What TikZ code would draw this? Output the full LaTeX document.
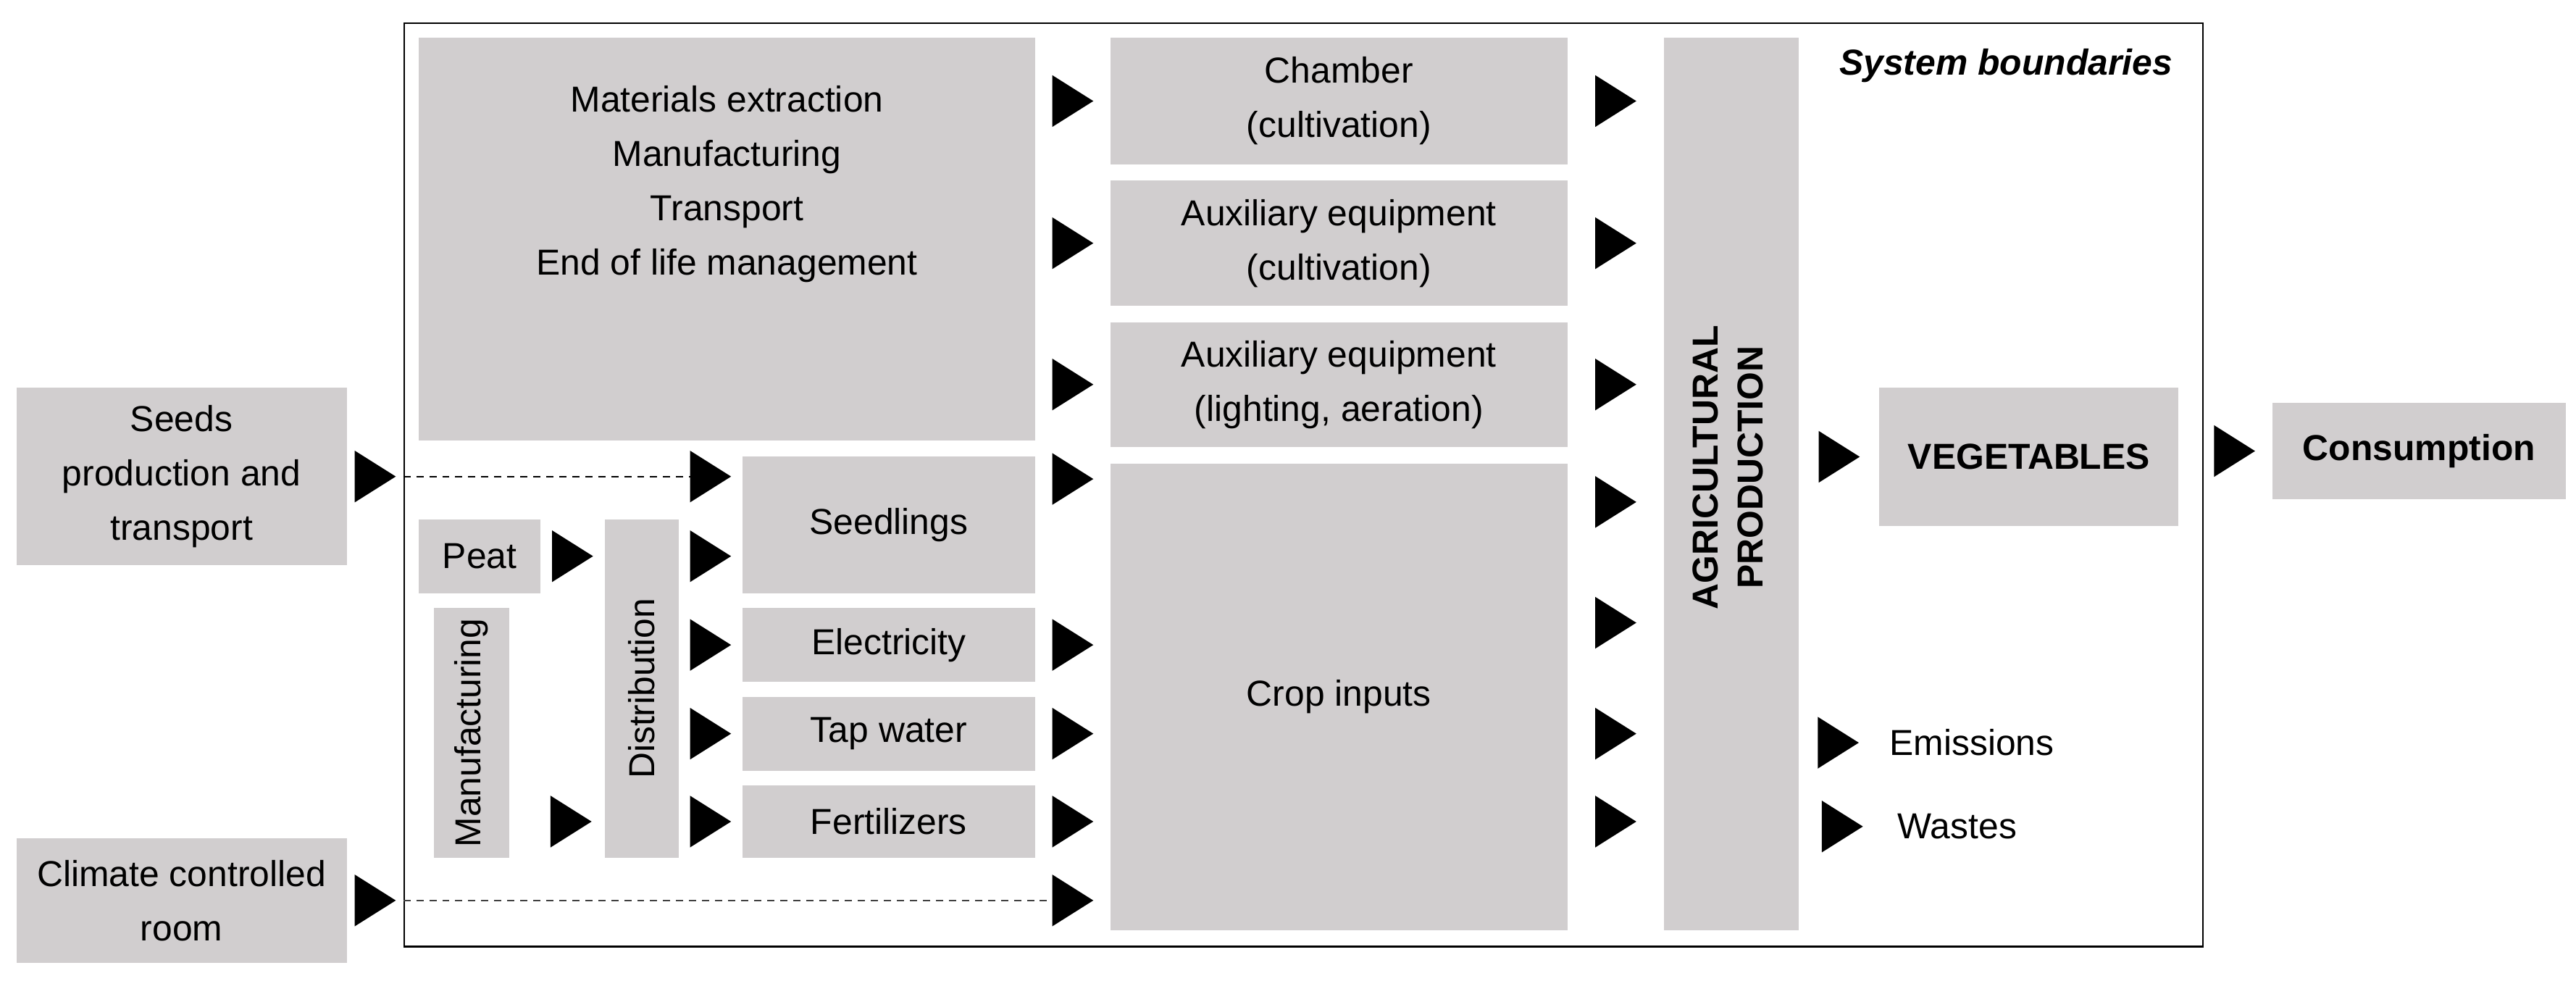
\documentclass[tikz,border=0pt]{standalone}
\usepackage{fontspec}
\setmainfont{Liberation Sans}
\usetikzlibrary{calc}
\definecolor{boxgray}{RGB}{209,206,207}
\tikzset{
  box/.style={fill=boxgray,align=center,inner sep=2pt},
  tri/.pic={\fill (-0.25,0.315) -- (0.25,0) -- (-0.25,-0.315) -- cycle;},
  dashline/.style={line width=.6pt,dash pattern=on 2.5pt off 2pt}
}
\begin{document}
\fontsize{12.5}{18.8}\selectfont
\begin{tikzpicture}
\useasboundingbox (0,0) rectangle (31.36,-11.94);
\node[draw,line width=.6pt,minimum width=21.9cm,minimum height=11.24cm,inner sep=0] (sys) at (15.87,-5.9) {};
\node[anchor=east,font=\bfseries\itshape] (sysname) at (26.6,-0.8) {System boundaries};
% outside the boundaries
\node[box,minimum width=4.02cm,minimum height=2.16cm] (seeds) at (2.21,-5.8) {Seeds\\production and\\transport};
\node[box,minimum width=4.02cm,minimum height=1.52cm] (climate) at (2.21,-10.96) {Climate controlled\\room};
\node[box,minimum width=3.58cm,minimum height=1.18cm,font=\bfseries] (cons) at (29.45,-5.49) {Consumption};
% infrastructure
\node[box,minimum width=7.5cm,minimum height=4.9cm] (mat) at (8.85,-2.91) {};
\node[align=center] (mattext) at (8.85,-2.24) {Materials extraction\\Manufacturing\\Transport\\End of life management};
\node[box,minimum width=5.56cm,minimum height=1.54cm] (chamber) at (16.3,-1.23) {Chamber\\(cultivation)};
\node[box,minimum width=5.56cm,minimum height=1.52cm] (auxcult) at (16.3,-2.96) {Auxiliary equipment\\(cultivation)};
\node[box,minimum width=5.56cm,minimum height=1.52cm] (auxlight) at (16.3,-4.68) {Auxiliary equipment\\(lighting, aeration)};
% crop inputs
\node[box,minimum width=5.56cm,minimum height=5.68cm] (crop) at (16.3,-8.48) {Crop inputs};
\node[box,minimum width=3.56cm,minimum height=1.66cm] (seedl) at (10.82,-6.39) {Seedlings};
\node[box,minimum width=3.56cm,minimum height=.9cm] (elec) at (10.82,-7.85) {Electricity};
\node[box,minimum width=3.56cm,minimum height=.9cm] (tap) at (10.82,-8.93) {Tap water};
\node[box,minimum width=3.56cm,minimum height=.88cm] (fert) at (10.82,-10.0) {Fertilizers};
\node[box,minimum width=1.48cm,minimum height=.9cm] (peat) at (5.84,-6.77) {Peat};
\node[box,minimum width=.92cm,minimum height=3.04cm] (manuf) at (5.74,-8.92) {\rotatebox{90}{Manufacturing}};
\node[box,minimum width=.9cm,minimum height=4.12cm] (distr) at (7.81,-8.38) {\rotatebox{90}{Distribution}};
% production and outputs
\node[box,minimum width=1.64cm,minimum height=10.86cm,font=\fontsize{12.5}{15.5}\selectfont\bfseries] (agr) at (21.08,-5.89)
  {\rotatebox{90}{\hspace{4mm}\begin{tabular}{@{}c@{}}AGRICULTURAL\\PRODUCTION\end{tabular}}};
\node[box,minimum width=3.64cm,minimum height=1.68cm,font=\bfseries] (veg) at (24.7,-5.56) {VEGETABLES};
\node[anchor=west] (emis) at (22.85,-9.04) {Emissions};
\node[anchor=west] (wast) at (22.95,-10.06) {Wastes};
\coordinate (seedlout) at ([yshift=5.6mm]seedl.east);
% flows
\foreach \t in {chamber,auxcult,auxlight}
  \path (mat.east |- \t) -- (\t.west) pic[midway]{tri};
\path (seedlout) -- (crop.west |- seedlout) pic[midway]{tri};
\foreach \s in {elec,tap,fert}
  \path (\s.east) -- (crop.west |- \s) pic[midway]{tri};
\foreach \t in {chamber,auxcult,auxlight}
  \path (\t.east) -- (agr.west |- \t) pic[midway]{tri};
\foreach \y in {-6.11,-7.58,-8.93,-10.0}
  \path (crop.east |- 0,\y) -- (agr.west |- 0,\y) pic[midway]{tri};
\path (peat.east) -- (distr.west |- peat) pic[midway]{tri};
\path (manuf.east |- fert) -- (distr.west |- fert) pic[pos=.65]{tri};
\path (distr.east |- peat) -- (seedl.west |- peat) pic[midway]{tri};
\foreach \s in {elec,tap,fert}
  \path (distr.east |- \s) -- (\s.west) pic[midway]{tri};
% dashed flows
\path (seeds.east) -- (sys.west |- seeds) pic[midway]{tri};
\draw[dashline] (sys.west |- seeds) -- ($(seedl.west |- seeds)+(-.5,0)$);
\path (distr.east |- seeds) -- (seedl.west |- seeds) pic[midway]{tri};
\path (climate.east) -- (sys.west |- climate) pic[midway]{tri};
\draw[dashline,black!75] (sys.west |- climate) -- ($(crop.west |- climate)+(-.5,0)$);
\path (seedl.east |- climate) -- (crop.west |- climate) pic[midway]{tri};
\path (agr.east |- veg) -- (veg.west) pic[midway]{tri};
\path (veg.east |- cons) -- (cons.west) pic[pos=.6]{tri};
\path (agr.east |- emis) -- (emis.west) pic[midway]{tri};
\path (agr.east |- wast) -- (wast.west) pic[midway]{tri};
\end{tikzpicture}
\end{document}
